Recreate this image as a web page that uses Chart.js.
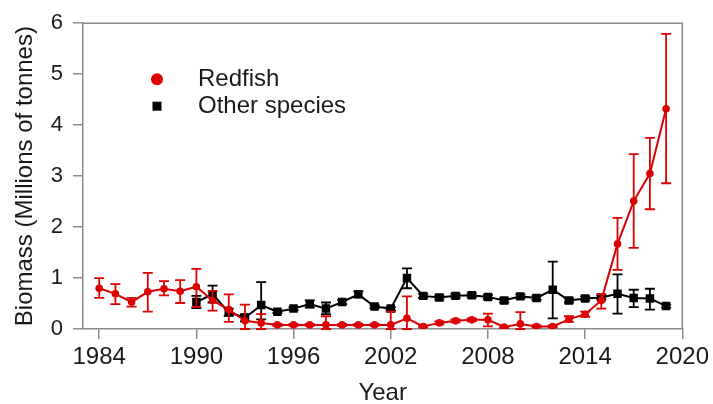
<!DOCTYPE html>
<html>
<head>
<meta charset="utf-8">
<script src="https://cdn.jsdelivr.net/npm/chart.js@4/dist/chart.umd.min.js"></script>
<style>
  html, body { margin: 0; padding: 0; background: #ffffff; }
  #wrap { width: 713px; height: 404px; }
</style>
</head>
<body>
<div id="wrap"><canvas id="chart" width="713" height="404"></canvas></div>
<script>
// Survey biomass estimates (millions of tonnes) with confidence intervals
const redfishYears = [1984, 1985, 1986, 1987, 1988, 1989, 1990, 1991, 1992, 1993,
  1994, 1995, 1996, 1997, 1998, 1999, 2000, 2001, 2002, 2003,
  2004, 2005, 2006, 2007, 2008, 2009, 2010, 2011, 2012, 2013,
  2014, 2015, 2016, 2017, 2018, 2019];
const redfishBiomass = [0.80, 0.69, 0.53, 0.73, 0.79, 0.74, 0.83, 0.56, 0.38, 0.16,
  0.12, 0.08, 0.08, 0.08, 0.08, 0.08, 0.08, 0.08, 0.08, 0.21,
  0.05, 0.12, 0.16, 0.18, 0.18, 0.04, 0.10, 0.05, 0.05, 0.19,
  0.29, 0.56, 1.67, 2.51, 3.05, 4.32];
const redfishLower = [0.61, 0.49, 0.44, 0.34, 0.66, 0.51, 0.43, 0.36, 0.14, 0.00,
  0.00, 0.06, 0.06, 0.06, 0.00, 0.06, 0.06, 0.06, 0.00, 0.00,
  0.03, 0.09, 0.13, 0.15, 0.05, 0.02, 0.00, 0.03, 0.03, 0.14,
  0.24, 0.40, 1.16, 1.59, 2.35, 2.86];
const redfishUpper = [1.00, 0.88, 0.61, 1.10, 0.94, 0.96, 1.18, 0.75, 0.68, 0.48,
  0.29, 0.10, 0.10, 0.10, 0.25, 0.10, 0.10, 0.10, 0.34, 0.64,
  0.07, 0.15, 0.19, 0.21, 0.30, 0.06, 0.33, 0.07, 0.07, 0.25,
  0.34, 0.68, 2.18, 3.43, 3.75, 5.79];

const otherYears = [1990, 1991, 1992, 1993, 1994, 1995, 1996, 1997, 1998, 1999,
  2000, 2001, 2002, 2003, 2004, 2005, 2006, 2007, 2008, 2009,
  2010, 2011, 2012, 2013, 2014, 2015, 2016, 2017, 2018, 2019];
const otherBiomass = [0.53, 0.68, 0.33, 0.22, 0.47, 0.34, 0.40, 0.49, 0.40, 0.53,
  0.68, 0.44, 0.40, 1.00, 0.65, 0.62, 0.65, 0.66, 0.63, 0.56,
  0.64, 0.61, 0.77, 0.56, 0.60, 0.62, 0.69, 0.61, 0.60, 0.45];
const otherLower = [0.41, 0.52, 0.26, 0.15, 0.19, 0.31, 0.37, 0.42, 0.29, 0.49,
  0.62, 0.41, 0.37, 0.80, 0.61, 0.58, 0.61, 0.62, 0.59, 0.52,
  0.60, 0.57, 0.21, 0.52, 0.56, 0.58, 0.30, 0.43, 0.38, 0.42];
const otherUpper = [0.65, 0.85, 0.40, 0.29, 0.92, 0.37, 0.43, 0.56, 0.52, 0.57,
  0.74, 0.47, 0.43, 1.19, 0.69, 0.66, 0.69, 0.70, 0.67, 0.60,
  0.68, 0.65, 1.32, 0.60, 0.64, 0.66, 1.07, 0.77, 0.79, 0.48];

const xTickYears = [1984, 1990, 1996, 2002, 2008, 2014, 2020];
const seriesNames = ['Redfish', 'Other species'];

const RED = '#dd0000';
const BLACK = '#000000';
const AXIS = '#8c8c8c';
const TEXT = '#1a1a1a';
const FONT = "'Liberation Sans', Arial, sans-serif";

function toPoints(xs, ys, lo, hi) {
  return xs.map((x, i) => ({ x: x, y: ys[i], lo: lo[i], hi: hi[i] }));
}

// Error bars, drawn just before each dataset so the markers sit on top
const errorBars = {
  id: 'errorBars',
  beforeDatasetDraw(chart, args) {
    const ds = chart.data.datasets[args.index];
    const xs = chart.scales.x, ys = chart.scales.y;
    const ctx = chart.ctx;
    const cap = 5;
    ctx.save();
    ctx.strokeStyle = ds.borderColor;
    ctx.lineWidth = 1.8;
    ds.data.forEach(p => {
      const px = xs.getPixelForValue(p.x);
      const yl = ys.getPixelForValue(p.lo);
      const yh = ys.getPixelForValue(p.hi);
      ctx.beginPath();
      ctx.moveTo(px, yl); ctx.lineTo(px, yh);
      ctx.moveTo(px - cap, yl); ctx.lineTo(px + cap, yl);
      ctx.moveTo(px - cap, yh); ctx.lineTo(px + cap, yh);
      ctx.stroke();
    });
    ctx.restore();
  }
};

// Top and right edges of the plot box
const plotBox = {
  id: 'plotBox',
  beforeDatasetsDraw(chart) {
    const { ctx, chartArea: a } = chart;
    ctx.save();
    ctx.strokeStyle = AXIS;
    ctx.lineWidth = 1.5;
    ctx.beginPath();
    ctx.moveTo(a.left, a.top); ctx.lineTo(a.right, a.top); ctx.lineTo(a.right, a.bottom);
    ctx.stroke();
    ctx.restore();
  }
};

// Legend placed inside the plot area
const insetLegend = {
  id: 'insetLegend',
  afterDraw(chart) {
    const ctx = chart.ctx;
    const a = chart.chartArea;
    const mx = a.left + 74, tx = a.left + 115;
    const y1 = a.top + 56, y2 = a.top + 83;
    ctx.save();
    ctx.fillStyle = RED;
    ctx.beginPath(); ctx.arc(mx, y1, 6, 0, Math.PI * 2); ctx.fill();
    ctx.fillStyle = BLACK;
    ctx.fillRect(mx - 4.5, y2 - 4.5, 9, 9);
    ctx.fillStyle = TEXT;
    ctx.font = '24px ' + FONT;
    ctx.textBaseline = 'middle';
    ctx.textAlign = 'left';
    ctx.fillText(seriesNames[0], tx, y1);
    ctx.fillText(seriesNames[1], tx, y2);
    ctx.restore();
  }
};

new Chart(document.getElementById('chart'), {
  type: 'line',
  data: {
    datasets: [
      {
        label: seriesNames[0],
        data: toPoints(redfishYears, redfishBiomass, redfishLower, redfishUpper),
        borderColor: RED, backgroundColor: RED,
        borderWidth: 2, pointStyle: 'circle', pointRadius: 3.8,
        pointBorderWidth: 0, tension: 0
      },
      {
        label: seriesNames[1],
        data: toPoints(otherYears, otherBiomass, otherLower, otherUpper),
        borderColor: BLACK, backgroundColor: BLACK,
        borderWidth: 2, pointStyle: 'rect', pointRadius: 6,
        pointBorderWidth: 0, tension: 0
      }
    ]
  },
  options: {
    responsive: false,
    animation: false,
    parsing: { xAxisKey: 'x', yAxisKey: 'y' },
    layout: { padding: { left: 0, right: 29, top: 20, bottom: 0 } },
    plugins: { legend: { display: false }, tooltip: { enabled: false } },
    scales: {
      x: {
        type: 'linear', min: 1983, max: 2020,
        afterBuildTicks: s => { s.ticks = xTickYears.map(v => ({ value: v })); },
        afterFit: s => { s.height = 75; },
        grid: { drawOnChartArea: false, drawTicks: true, tickLength: 10, color: AXIS, lineWidth: 1.5 },
        border: { display: true, color: AXIS, width: 1.5 },
        ticks: {
          autoSkip: false, maxRotation: 0, padding: 4, color: TEXT,
          font: { family: FONT, size: 24 },
          callback: v => String(v)
        },
        title: {
          display: true, text: 'Year', color: TEXT,
          font: { family: FONT, size: 24, lineHeight: 1 }, padding: { top: 0, bottom: -1 }
        }
      },
      y: {
        min: 0, max: 6,
        afterFit: s => { s.width = 83; },
        grid: { drawOnChartArea: false, drawTicks: true, tickLength: 10, color: AXIS, lineWidth: 1.5 },
        border: { display: true, color: AXIS, width: 1.5 },
        ticks: {
          stepSize: 1, padding: 10, color: TEXT,
          font: { family: FONT, size: 22 }
        },
        title: {
          display: true, text: 'Biomass (Millions of tonnes)', color: TEXT,
          font: { family: FONT, size: 24 }, padding: { top: 11, bottom: 0 }
        }
      }
    }
  },
  plugins: [errorBars, plotBox, insetLegend]
});
</script>
</body>
</html>
